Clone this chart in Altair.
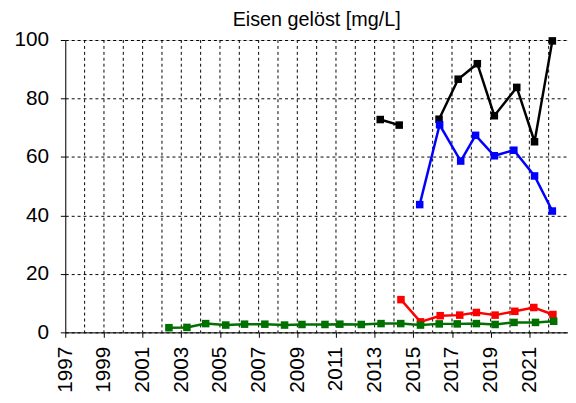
import altair as alt
import pandas as pd

# ---- data ----
green_x = [2002.36, 2003.29, 2004.26, 2005.30, 2006.27, 2007.32, 2008.34, 2009.24,
           2010.43, 2011.20, 2012.31, 2013.33, 2014.35, 2015.37, 2016.34, 2017.27,
           2018.26, 2019.23, 2020.21, 2021.32, 2022.26]
green_y = [1.6, 1.7, 3.0, 2.5, 2.8, 2.8, 2.5, 2.7, 2.7, 2.8, 2.7, 3.0, 3.0, 2.5,
           2.9, 2.9, 3.0, 2.7, 3.4, 3.4, 3.8]

red_x = [2014.36, 2015.37, 2016.39, 2017.40, 2018.26, 2019.23, 2020.25, 2021.23, 2022.22]
red_y = [11.2, 3.6, 5.7, 5.9, 6.8, 5.9, 7.2, 8.5, 6.1]

blue_x = [2015.33, 2016.36, 2017.45, 2018.22, 2019.19, 2020.20, 2021.27, 2022.19]
blue_y = [43.7, 71.0, 58.6, 67.4, 60.4, 62.3, 53.5, 41.5]

black_x = [2013.29, 2014.27, 2016.33, 2017.32, 2018.31, 2019.19, 2020.35, 2021.27, 2022.19]
black_y = [72.8, 70.9, 72.9, 86.6, 91.9, 74.1, 83.8, 65.2, 99.7]
black_seg = [1, 1, 2, 2, 2, 2, 2, 2, 2]

series_names = ["schwarz", "blau", "rot", "grün"]
series_colors = ["#000000", "#0000ff", "#ff0000", "#007000"]

grid_years = list(range(1998, 2023))
label_years = list(range(1997, 2022, 2))
y_ticks = [0, 20, 40, 60, 80, 100]

rows = []
for x, y, s in zip(black_x, black_y, black_seg):
    rows.append({"x": x, "y": y, "s": "schwarz", "seg": "schwarz%d" % s})
for x, y in zip(blue_x, blue_y):
    rows.append({"x": x, "y": y, "s": "blau", "seg": "blau"})
for x, y in zip(red_x, red_y):
    rows.append({"x": x, "y": y, "s": "rot", "seg": "rot"})
for x, y in zip(green_x, green_y):
    rows.append({"x": x, "y": y, "s": "grün", "seg": "grün"})
df = pd.DataFrame(rows)

FONT = "Liberation Sans"
LSIZE = 21

xscale = alt.Scale(domain=[1997, 2023], nice=False, zero=False)
yscale = alt.Scale(domain=[0, 100], nice=False)
cscale = alt.Scale(domain=series_names, range=series_colors)

grid = alt.Chart(pd.DataFrame({"yr": grid_years})).mark_rule(
    color="black", strokeWidth=1, strokeDash=[3, 3]
).encode(x=alt.X("yr:Q", scale=xscale))

xaxis = alt.Axis(values=label_years, format="d", labelAngle=270, grid=False,
                 tickSize=5, tickColor="black", domainColor="black",
                 labelFont=FONT, labelFontSize=LSIZE, labelColor="black",
                 labelPadding=9, title=None, labelOverlap=False, labelFlush=False)
yaxis = alt.Axis(values=y_ticks, grid=True, gridColor="black", gridDash=[3, 3],
                 gridWidth=1, tickSize=5, tickColor="black", domainColor="black",
                 labelFont=FONT, labelFontSize=LSIZE, labelColor="black",
                 labelPadding=12, title=None)

base = alt.Chart(df)
lines = base.mark_line(strokeWidth=2.5).encode(
    x=alt.X("x:Q", scale=xscale, axis=xaxis),
    y=alt.Y("y:Q", scale=yscale, axis=yaxis),
    color=alt.Color("s:N", scale=cscale, legend=None),
    detail="seg:N",
    order=alt.Order("x:Q"),
)
points = base.mark_square(size=58, opacity=1).encode(
    x=alt.X("x:Q", scale=xscale),
    y=alt.Y("y:Q", scale=yscale),
    color=alt.Color("s:N", scale=cscale, legend=None),
)

layers = [grid]
for name in series_names:
    layers.append(lines.transform_filter(alt.datum.s == name))
    layers.append(points.transform_filter(alt.datum.s == name))

chart = alt.layer(*layers).properties(
    width=509,
    height=296,
    padding={"left": 5, "top": 0, "right": 0, "bottom": 0},
    title=alt.TitleParams("Eisen gelöst [mg/L]", font=FONT, fontSize=20,
                          fontWeight="normal", color="black", anchor="middle",
                          offset=-1),
).configure_view(stroke="black", strokeWidth=1.5).configure(background="white")

chart.save("out.html", embed_options={"renderer": "svg", "actions": False})
